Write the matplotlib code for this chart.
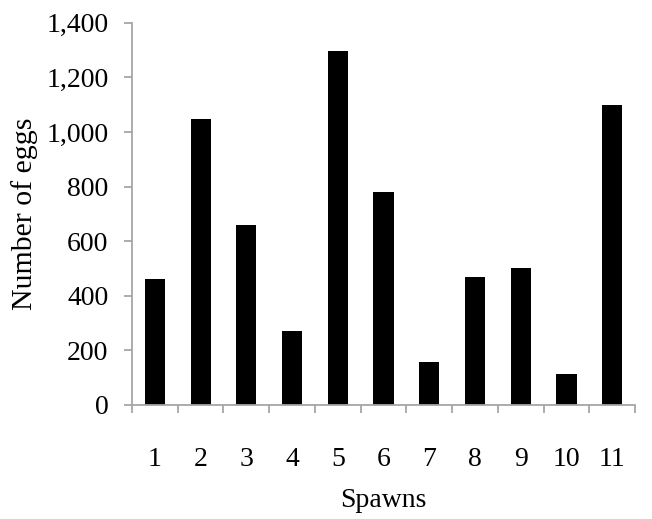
import matplotlib
matplotlib.use("Agg")
import matplotlib.pyplot as plt
from matplotlib.ticker import FuncFormatter, FixedLocator

spawns = ["1", "2", "3", "4", "5", "6", "7", "8", "9", "10", "11"]
eggs = [462, 1048, 660, 270, 1295, 780, 157, 470, 502, 115, 1100]
y_ticks = [0, 200, 400, 600, 800, 1000, 1200, 1400]

plt.rcParams['font.family'] = ['Liberation Serif', 'DejaVu Serif']

fig = plt.figure(figsize=(6.52, 5.19), dpi=100)
ax = fig.add_axes([0.2025, 0.2197, 0.7715, 0.7366])

x = list(range(len(spawns)))
ax.bar(x, eggs, width=0.44, color='black')

ax.set_xlim(-0.5, len(spawns) - 0.5)
ax.set_ylim(0, 1400)
ax.set_yticks(y_ticks)
ax.yaxis.set_major_formatter(FuncFormatter(lambda v, p: f"{int(v):,}"))

ax.xaxis.set_major_locator(FixedLocator([i - 0.5 for i in range(len(spawns) + 1)]))
ax.xaxis.set_major_formatter(FuncFormatter(lambda v, p: ""))
ax.xaxis.set_minor_locator(FixedLocator(x))
ax.set_xticklabels(spawns, minor=True)

gray = '#a6a6a6'
for s in ['top', 'right']:
    ax.spines[s].set_visible(False)
for s in ['left', 'bottom']:
    ax.spines[s].set_color(gray)
    ax.spines[s].set_linewidth(1.3)

ax.tick_params(axis='y', which='major', direction='out', length=6, width=1.3, color=gray,
               labelsize=20, pad=11, labelcolor='black')
ax.tick_params(axis='x', which='major', direction='out', length=6, width=1.3, color=gray)
ax.tick_params(axis='x', which='minor', length=0, labelsize=20, pad=30, labelcolor='black')

ax.set_ylabel("Number of eggs", fontsize=21.5, labelpad=6)
ax.set_xlabel("Spawns", fontsize=20, labelpad=12)

fig.savefig("out.png", dpi=100)
